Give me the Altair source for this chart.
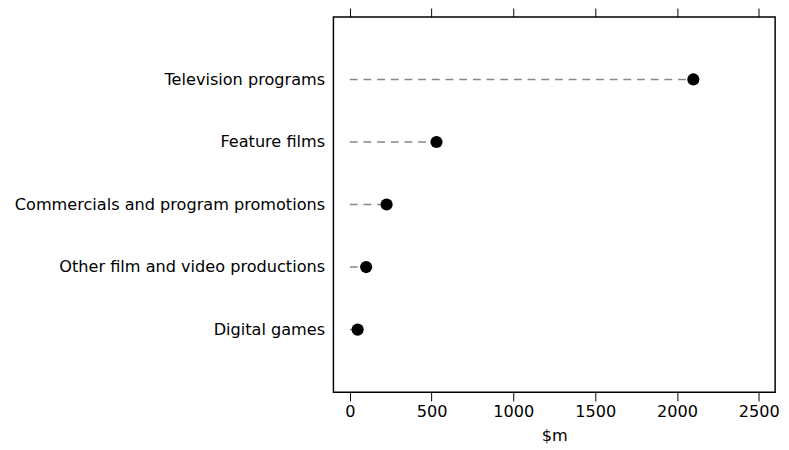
import altair as alt
import pandas as pd

categories = ["Television programs", "Feature films", "Commercials and program promotions",
              "Other film and video productions", "Digital games"]
values = [2100, 530, 225, 100, 48]
x_ticks = [0, 500, 1000, 1500, 2000, 2500]

df = pd.DataFrame({"category": categories, "value": values, "zero": [0] * len(values)})

FONT = "DejaVu Sans"
FS = 16.5

y_enc = alt.Y("category:N", sort=categories, title=None,
              scale=alt.Scale(type="point", padding=1),
              axis=alt.Axis(ticks=False, domain=False, labelFontSize=FS, labelFont=FONT,
                            labelColor="black", labelPadding=9, labelLimit=400))

x_scale = alt.Scale(domain=[-100, 2600], nice=False, zero=False)

base = alt.Chart(df)

rules = base.mark_rule(color="#888888", strokeDash=[8, 6], strokeWidth=1.5).encode(
    x=alt.X("zero:Q", scale=x_scale,
            axis=alt.Axis(values=x_ticks, title="$m", domain=False, grid=False, tickColor="black",
                          tickSize=9, tickWidth=1, labelFontSize=FS, labelFont=FONT, labelColor="black",
                          format="d",
                          titleFontSize=FS, titleFont=FONT, titleFontWeight="normal", titleColor="black",
                          labelPadding=3, titlePadding=8)),
    x2="value:Q",
    y=y_enc,
)

top_axis = base.mark_point(opacity=0).encode(
    x=alt.X("value:Q", scale=x_scale,
            axis=alt.Axis(orient="top", values=x_ticks, labels=False, title=None, domain=False,
                          grid=False, tickColor="black", tickSize=9, tickWidth=1)),
    y=y_enc,
)

points = base.mark_circle(color="black", size=155, opacity=1).encode(
    x=alt.X("value:Q", scale=x_scale, axis=None),
    y=y_enc,
)

chart = alt.layer(rules, top_axis, points).resolve_axis(x="independent").properties(
    width=452, height=384,
    autosize=alt.AutoSizeParams(type="none"),
    padding={"top": 4, "left": 333, "right": 6, "bottom": 50},
    background="white",
).configure_view(stroke="black", strokeWidth=1.5)

chart.save("out.html", embed_options={"renderer": "svg", "actions": False})
